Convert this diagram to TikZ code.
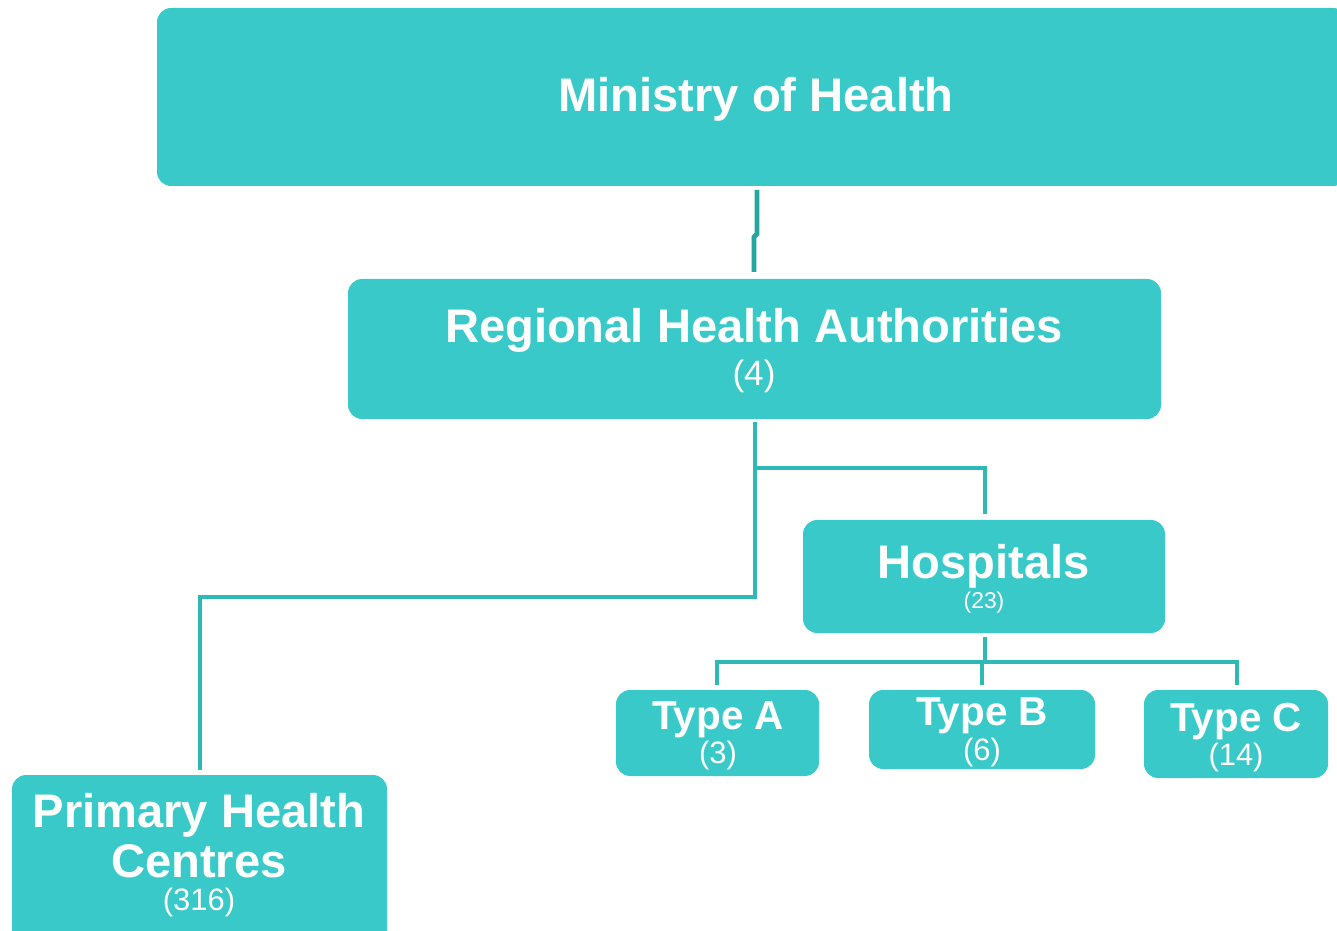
\documentclass[tikz,border=0pt]{standalone}
\usepackage{fontspec}
\setmainfont{Liberation Sans}
\usetikzlibrary{calc}
\definecolor{boxfill}{RGB}{58,201,201}
\definecolor{linkcol}{RGB}{46,184,182}
\definecolor{topcol}{RGB}{38,164,160}
\tikzset{
  unitbox/.style={fill=boxfill, draw=none, rounded corners=4pt, inner sep=0pt},
  caption/.style={text=white, anchor=base, inner sep=0pt},
  headtxt/.style={caption, font=\bfseries\fontsize{13.4}{14}\selectfont},
  subtxt/.style={caption, font=\bfseries\fontsize{11.5}{12}\selectfont},
  counttxt/.style={caption, font=\fontsize{#1}{#1}\selectfont},
  link/.style={draw=linkcol, line width=1.2pt},
  toplink/.style={draw=topcol, line width=1.4pt},
}
\begin{document}
\begin{tikzpicture}[x=0.01cm, y=-0.01cm]
\useasboundingbox (0,0) rectangle (1337,931);
\clip (0,0) rectangle (1337,931);

% boxes
\node[unitbox, minimum width=1190*0.01cm, minimum height=178*0.01cm] (min) at (752,97) {};
\node[unitbox, minimum width=813*0.01cm, minimum height=140*0.01cm] (rha) at (754.5,349) {};
\node[unitbox, minimum width=362*0.01cm, minimum height=113*0.01cm] (hosp) at (984,576.5) {};
\node[unitbox, minimum width=203*0.01cm, minimum height=86*0.01cm] (ta) at (717.5,733) {};
\node[unitbox, minimum width=226*0.01cm, minimum height=79*0.01cm] (tb) at (982,729.5) {};
\node[unitbox, minimum width=184*0.01cm, minimum height=88*0.01cm] (tc) at (1236,734) {};
\node[unitbox, minimum width=375*0.01cm, minimum height=170*0.01cm] (phc) at (199.5,860) {};

% captions, placed on their baselines
\node[headtxt] (minT) at (756,112) {Ministry of Health};
\node[headtxt] (rhaT) at (754,343) {Regional Health Authorities};
\node[counttxt=10] (rhaN) at (754,386) {(4)};
\node[headtxt] (hospT) at (984,578) {Hospitals};
\node[counttxt=6.5] (hospN) at (984,608) {(23)};
\node[subtxt] (taT) at (718,729) {Type A};
\node[counttxt=8.8] (taN) at (718,763) {(3)};
\node[subtxt] (tbT) at (982,725) {Type B};
\node[counttxt=8.8] (tbN) at (982,760) {(6)};
\node[subtxt] (tcT) at (1236,731) {Type C};
\node[counttxt=8.8] (tcN) at (1236,765) {(14)};
\node[headtxt] (phcT1) at (199,827) {Primary Health};
\node[headtxt] (phcT2) at (199,877) {Centres};
\node[counttxt=8.8] (phcN) at (199,910) {(316)};

% connector points
\coordinate (mtop) at (757,190);
\coordinate (mjog) at (757,234);
\coordinate (rtop) at (754,272);
\coordinate (rbot) at (755,422);
\coordinate (hbr) at (755,468);
\coordinate (hdrop) at (985,514);
\coordinate (pbr) at (755,597);
\coordinate (pdrop) at (200,770);
\coordinate (hbot) at (985,637);
\coordinate (tbar) at (985,662);
\coordinate (adrop) at (717,685);
\coordinate (bdrop) at (982,685);
\coordinate (cdrop) at (1237,685);

% Ministry to regional authorities
\draw[toplink] (mtop) -- (mjog) -- ++(-3,3) -- (rtop);
% regional authorities to hospitals and primary health centres
\draw[link] (rbot) -- (pbr) -| (pdrop);
\draw[link] (hbr) -| (hdrop);
% hospitals to the three types
\draw[link] (hbot) -- (tbar);
\draw[link] (adrop) |- (tbar) -| (cdrop);
\draw[link] (tbar -| bdrop) -- (bdrop);
\end{tikzpicture}
\end{document}
